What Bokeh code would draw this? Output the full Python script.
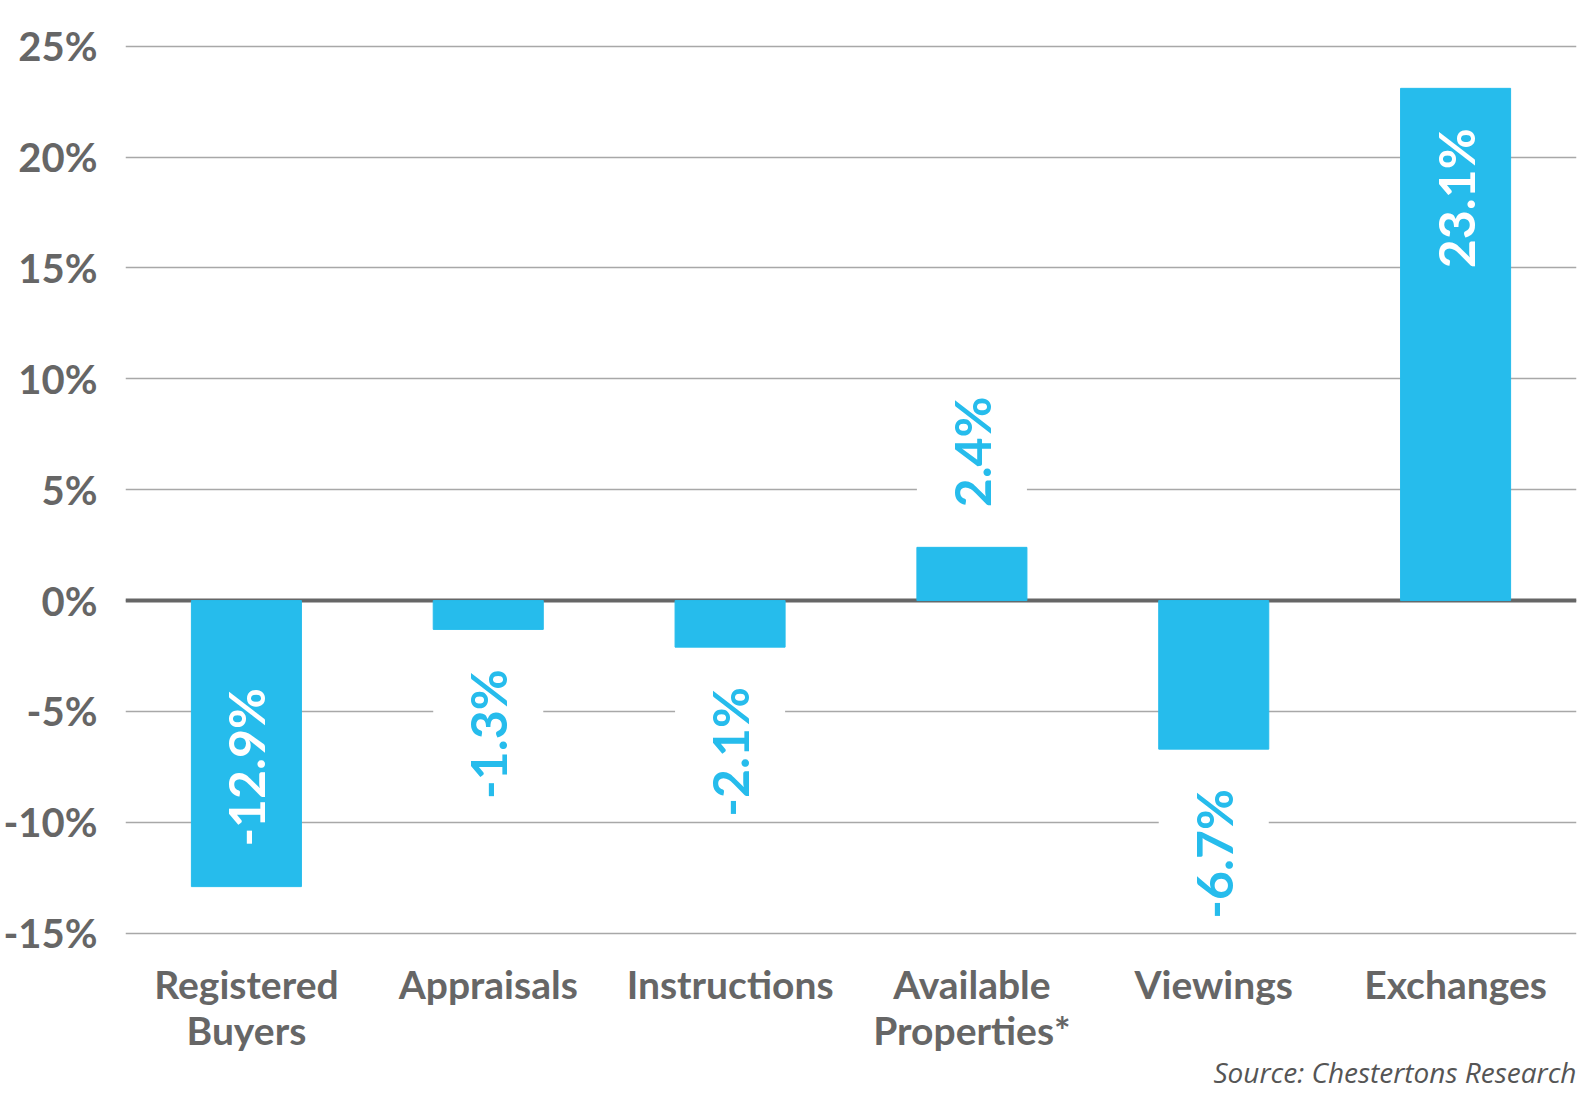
from bokeh.plotting import figure
from bokeh.models import (Range1d, FixedTicker, PrintfTickFormatter,
                          Span, Title, ColumnDataSource, LinearAxis)
from bokeh.embed import file_html
from bokeh.resources import INLINE
from bokeh.core.properties import value

# ---- data ----
categories = ["Registered Buyers", "Appraisals", "Instructions",
              "Available Properties*", "Viewings", "Exchanges"]
label_line1 = ["Registered", "Appraisals", "Instructions",
               "Available", "Viewings", "Exchanges"]
label_line2 = ["Buyers", " ", " ", "Properties*", " ", " "]
changes = [-12.9, -1.3, -2.1, 2.4, -6.7, 23.1]
y_ticks = [-15, -10, -5, 0, 5, 10, 15, 20, 25]
source_note = "Source: Chestertons Research"

# ---- layout ----
W, H = 1588, 1098
BL, BR, BT, BB = 113, 12, 18, 158
Y0, Y1 = -15.33, 26.25
ppu = (H - BT - BB) / (Y1 - Y0)   # pixels per percent

BAR_COLOR = "#26BCEC"
GREY = "#666666"
BAR_W = 0.455
FONT = "Lato"

xpos = list(range(len(categories)))

p = figure(x_range=Range1d(-0.5, len(categories) - 0.5), y_range=Range1d(Y0, Y1),
           width=W, height=H, output_backend="svg", toolbar_location=None,
           min_border_left=BL, min_border_right=BR, min_border_top=BT,
           min_border_bottom=BB)
p.outline_line_color = None
p.background_fill_color = "white"
p.border_fill_color = "white"

# y axis
p.yaxis.ticker = FixedTicker(ticks=y_ticks)
p.yaxis.formatter = PrintfTickFormatter(format="%d%%")
p.yaxis.axis_line_color = None
p.yaxis.major_tick_line_color = None
p.yaxis.minor_tick_line_color = None
p.yaxis.major_label_standoff = 22
p.yaxis.major_label_text_font = FONT
p.yaxis.major_label_text_font_style = "bold"
p.yaxis.major_label_text_font_size = "40px"
p.yaxis.major_label_text_color = GREY


def style_xaxis(ax, standoff):
    ax.ticker = FixedTicker(ticks=xpos)
    ax.minor_tick_line_color = None
    ax.axis_line_color = None
    ax.major_tick_line_color = None
    ax.major_label_standoff = standoff
    ax.major_label_text_font = FONT
    ax.major_label_text_font_style = "bold"
    ax.major_label_text_font_size = "39px"
    ax.major_label_text_color = GREY


# category labels: two stacked axes (first and second line)
ax1 = p.xaxis[0]
style_xaxis(ax1, 14)
ax1.major_label_overrides = {i: s for i, s in zip(xpos, label_line1)}

ax2 = LinearAxis()
style_xaxis(ax2, -9)
ax2.major_label_overrides = {i: s for i, s in zip(xpos, label_line2)}
p.add_layout(ax2, "below")

p.xgrid.grid_line_color = None
p.ygrid.grid_line_color = "#a8a8a8"
p.ygrid.grid_line_width = 1.5

zero = Span(location=0, dimension="width", line_color=GREY, line_width=4,
            level="underlay")
p.add_layout(zero)

# bars
p.vbar(x=xpos, top=changes, width=BAR_W, color=BAR_COLOR)

# value labels
OFF = 40 / ppu          # gap between bar end and label
TXT_LEN = 120 / ppu     # approx label length for white backing box
lab_y, lab_align, lab_color, lab_text = [], [], [], []
box_x, box_bot, box_top = [], [], []
for xi, v in zip(xpos, changes):
    inside = abs(v) >= 10
    lab_text.append(f"{v}%")
    if inside:
        lab_color.append("white")
        if v > 0:
            lab_y.append(v - OFF); lab_align.append("right")
        else:
            lab_y.append(v + OFF); lab_align.append("left")
    else:
        lab_color.append(BAR_COLOR)
        if v > 0:
            y = v + OFF
            lab_y.append(y); lab_align.append("left")
            box_x.append(xi); box_bot.append(y - 0.2); box_top.append(y + TXT_LEN)
        else:
            y = v - OFF
            lab_y.append(y); lab_align.append("right")
            box_x.append(xi); box_bot.append(y - TXT_LEN); box_top.append(y + 0.2)

p.vbar(x=box_x, bottom=box_bot, top=box_top, width=BAR_W,
       fill_color="white", line_color=None)

src = ColumnDataSource(dict(x=xpos, y=lab_y, t=lab_text,
                            align=lab_align, color=lab_color))
p.text(x="x", y="y", text="t", source=src, angle=1.5707963,
       text_align="align", text_baseline="middle", text_color="color",
       text_font=value(FONT), text_font_style="bold",
       text_font_size="50px")

# source note below the category labels, right aligned
note = Title(text=source_note, align="right", text_font="Open Sans",
             text_font_style="italic", text_font_size="28px",
             text_color="#555555", standoff=-10)
p.add_layout(note, "below")

open("out.html", "w").write(file_html(p, INLINE))
